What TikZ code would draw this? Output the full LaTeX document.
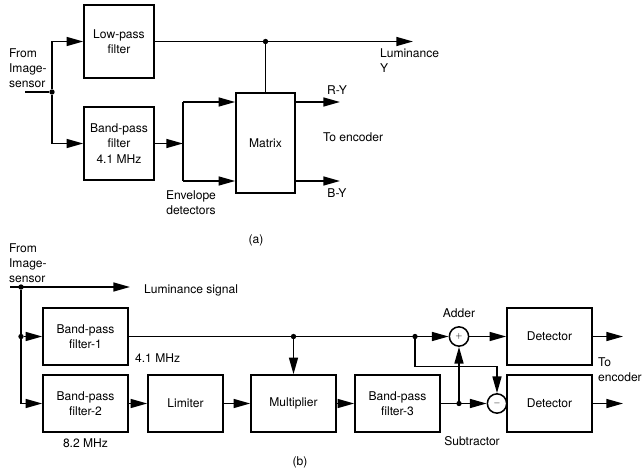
\documentclass[tikz,border=0pt]{standalone}
\usepackage{fontspec}
\setmainfont{TeX Gyre Heros}
\usetikzlibrary{arrows.meta,positioning,calc}

\begin{document}
\begin{tikzpicture}[x=0.03cm,y=-0.03cm,
    font=\fontsize{10.3}{13}\selectfont,
    blk/.style={rectangle, draw, line width=1.3pt, minimum width=2.55cm, minimum height=1.71cm, align=center, inner sep=1pt},
    sumnode/.style={circle, draw, line width=1.3pt, minimum size=0.58cm, inner sep=0pt, font=\scriptsize},
    arrow/.style={-{Triangle[length=5mm,width=2.7mm]}, line width=1.3pt},
    wire/.style={line width=1.3pt},
    dot/.style={circle, fill, inner sep=0pt, minimum size=1.6mm}
]
    \useasboundingbox (0,0) rectangle (642,473);

    % (a)
    \node[blk, minimum width=2.1cm, minimum height=2.19cm] (lpf) at (119,41.5) {Low-pass\\filter};
    \node[blk, minimum width=2.1cm, minimum height=2.19cm] (bpfa) at (119,143.5) {Band-pass\\filter\\4.1 MHz};
    \node[blk, minimum width=1.77cm, minimum height=3cm] (matrix) at (265.5,143) {Matrix};

    \coordinate (ina) at (25,92);
    \node[dot] (ja) at (52,92) {};
    \draw[wire] (ina) -- (ja);
    \draw[arrow] (ja) |- (lpf.west);
    \draw[arrow] (ja) |- (bpfa.west);

    \coordinate (lumy) at (413,41.5);
    \node[dot] (jy) at (matrix.north |- lpf.east) {};
    \draw[arrow] (lpf.east) -- (lumy);
    \draw[wire] (jy) -- (matrix.north);

    \coordinate (env) at (183,143.5);
    \coordinate (env1) at (183,102);
    \coordinate (env2) at (183,181);
    \draw[arrow] (bpfa.east) -- (env);
    \draw[wire] (env1) -- (env2);
    \draw[arrow] (env1) -- (env1 -| matrix.west);
    \draw[arrow] (env2) -- (env2 -| matrix.west);

    \coordinate (ry) at (340,102);
    \coordinate (by) at (340,181);
    \draw[arrow] (ry -| matrix.east) -- (ry);
    \draw[arrow] (by -| matrix.east) -- (by);

    \node[anchor=west, align=left] (srca) at (5,68) {From\\Image-\\sensor};
    \node[anchor=west, align=left] (lumlbl) at (376,60.5) {Luminance\\Y};
    \node (rylbl) at (337,90) {R-Y};
    \node (bylbl) at (337,193) {B-Y};
    \node[anchor=west] (enca) at (319,137) {To encoder};
    \node[align=center] (envlbl) at (191,203) {Envelope\\detectors};
    \node (capa) at (256,240) {(a)};

    % (b)
    \node[blk] (bpf1) at (85.5,336.5) {Band-pass\\filter-1};
    \node[blk] (bpf2) at (85.5,403.5) {Band-pass\\filter-2};
    \node[blk, minimum width=2.25cm] (lim) at (185.5,403.5) {Limiter};
    \node[blk] (mult) at (293.5,403.5) {Multiplier};
    \node[blk] (bpf3) at (397.5,403.5) {Band-pass\\filter-3};
    \node[sumnode] (add) at (459,336.5) {$+$};
    \node[sumnode] (sub) at (497,403.5) {$-$};
    \node[blk] (det1) at (549.5,336.5) {Detector};
    \node[blk] (det2) at (549.5,403.5) {Detector};

    \coordinate (inb) at (10,287);
    \coordinate (lum) at (130,287);
    \node[dot] (jb) at (21,287) {};
    \node[dot] (jb2) at (21,336.5) {};
    \draw[arrow] (inb) -- (lum);
    \draw[wire] (jb) -- (jb2);
    \draw[arrow] (jb2) -- (bpf1.west);
    \draw[arrow] (jb) |- (bpf2.west);

    \node[dot] (jm) at (mult.north |- bpf1.east) {};
    \node[dot] (js) at (415,336.5) {};
    \draw[arrow] (bpf1.east) -- (add.west);
    \draw[arrow] (jm) -- (mult.north);

    \draw[arrow] (bpf2.east) -- (lim.west);
    \draw[arrow] (lim.east) -- (mult.west);
    \draw[arrow] (mult.east) -- (bpf3.west);

    \node[dot] (jd) at (add.south |- bpf3.east) {};
    \draw[arrow] (bpf3.east) -- (sub.west);
    \draw[arrow] (jd) -- (add.south);
    \draw[arrow] (js) -- ++(0,30) -| (sub.north);

    \draw[arrow] (add.east) -- (det1.west);
    \draw[wire] (sub.east) -- (det2.west);
    \coordinate (o1) at (623,336.5);
    \coordinate (o2) at (623,403.5);
    \draw[arrow] (det1.east) -- (o1);
    \draw[arrow] (det2.east) -- (o2);

    \node[anchor=west, align=left] (srcb) at (5,263) {From\\Image-\\sensor};
    \node[anchor=west] (lumlbl2) at (140,290) {Luminance signal};
    \node[anchor=west] (f41) at (131,358) {4.1 MHz};
    \node (f82) at (85.5,443) {8.2 MHz};
    \node (addlbl) at (459,313) {Adder};
    \node (sublbl) at (472,441) {Subtractor};
    \node[anchor=west, align=left] (encb) at (594,369.5) {To\\encoder};
    \node (capb) at (300,462) {(b)};
\end{tikzpicture}
\end{document}
